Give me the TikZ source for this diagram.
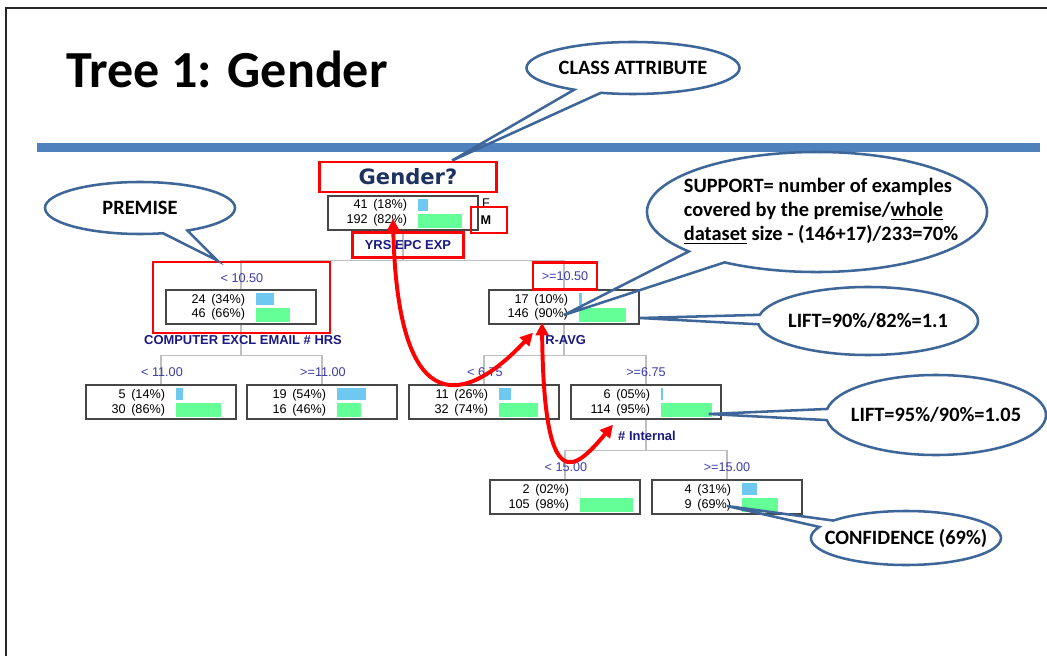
\documentclass[tikz,border=0pt]{standalone}
\usepackage{fontspec}
\usepackage{xcolor}
\usepackage{tikz}
\usetikzlibrary{shapes.callouts,arrows.meta}
\setmainfont{Liberation Sans}
\newfontfamily\slidefont{Carlito}
\newfontfamily\headfont{DejaVu Sans}
\definecolor{ruleblue}{RGB}{79,129,189}
\definecolor{calloutblue}{RGB}{62,102,152}
\definecolor{attrnavy}{RGB}{25,25,130}
\definecolor{splitblue}{RGB}{60,60,170}
\definecolor{gendernavy}{RGB}{30,50,95}
\definecolor{barblue}{RGB}{110,200,240}
\definecolor{bargreen}{RGB}{100,255,150}
\definecolor{boxgray}{RGB}{70,70,70}

% one tree node: box, two count lines and the two class bars
\newcommand{\leafbox}[9]{%
  \node[treebox] (#1) at (#2,#3) {};
  \node[tally, anchor=base east] (#1-n1) at ({#2-35},{#3-4}) {#4};
  \node[tally, anchor=base west] (#1-p1) at ({#2-30},{#3-4}) {(#5\%)};
  \node[tally, anchor=base east] (#1-n2) at ({#2-35},{#3+11}) {#6};
  \node[tally, anchor=base west] (#1-p2) at ({#2-30},{#3+11}) {(#7\%)};
  \fill[barblue] ({#2+15},{#3-14}) rectangle ++(#8,12);
  \fill[bargreen] ({#2+15},{#3+1}) rectangle ++(#9,14);
}

\begin{document}
\begin{tikzpicture}[
    x=0.025cm, y=-0.025cm,
    treebox/.style={draw=boxgray, line width=1pt, minimum width=3.75cm, minimum height=0.85cm, inner sep=0pt},
    tally/.style={font=\fontsize{9}{10}\selectfont, inner sep=0pt},
    splitlbl/.style={text=splitblue, font=\fontsize{9}{10}\selectfont, inner sep=0pt},
    attrlbl/.style={text=attrnavy, font=\bfseries\fontsize{9.2}{10}\selectfont, inner sep=0pt},
    branch/.style={draw=black!25, line width=0.8pt},
    redbox/.style={draw=red, line width=2pt},
    redarrow/.style={draw=red, line width=2.8pt, {Triangle[length=9pt,width=9pt]}-{Triangle[length=9pt,width=9pt]}},
    remark/.style={ellipse callout, draw=calloutblue, line width=1.8pt, inner sep=0pt, callout pointer arc=16,
        font=\slidefont\bfseries\fontsize{14.5}{17}\selectfont}
]

\useasboundingbox (0,0) rectangle (1047,656);
\fill[white] (0,0) rectangle (1047,656);
\draw[black!85, line width=1.5pt] (6,656) -- (6,8) -- (1047,8);

\node[anchor=base west, inner sep=0pt, font=\slidefont\bfseries\fontsize{37}{37}\selectfont] (title) at (66,88) {Tree 1: Gender};
\draw[ruleblue, line width=6.4pt] (37,148) -- (1040,148);

% tree
\leafbox{root}{403}{213}{41}{18}{192}{82}{10}{44}
\leafbox{l1}{241}{307}{24}{34}{46}{66}{18}{34}
\leafbox{r1}{564}{307}{17}{10}{146}{90}{3}{47}
\leafbox{ll}{161}{402}{5}{14}{30}{86}{7}{45}
\leafbox{lr}{322}{402}{19}{54}{16}{46}{29}{24}
\leafbox{rl}{484}{402}{11}{26}{32}{74}{12}{39}
\leafbox{rr}{646}{402}{6}{05}{114}{95}{1.5}{51}
\leafbox{c3a}{565}{497}{2}{02}{105}{98}{0}{53}
\leafbox{c3b}{727}{497}{4}{31}{9}{69}{15}{36}

\draw[branch] (root.south) -- ++(0,30) -| (l1.north);
\draw[branch] (root.south) -- ++(0,30) -| (r1.north);
\draw[branch] (l1.south) -- ++(0,31) -| (ll.north);
\draw[branch] (l1.south) -- ++(0,31) -| (lr.north);
\draw[branch] (r1.south) -- ++(0,31) -| (rl.north);
\draw[branch] (r1.south) -- ++(0,31) -| (rr.north);
\draw[branch] (rr.south) -- ++(0,31) -| (c3a.north);
\draw[branch] (rr.south) -- ++(0,31) -| (c3b.north);

\node[redbox, text=gendernavy, font=\headfont\bfseries\fontsize{15}{15}\selectfont, minimum width=4.425cm, minimum height=0.75cm] (gender) at (408,177) {Gender?};
\node[tally] (flbl) at (486,203) {F};
\node[tally, font=\bfseries\fontsize{9}{10}\selectfont] (mlbl) at (486,220) {M};
\node[redbox, minimum width=0.9cm, minimum height=0.65cm] (mbox) at (489,220) {};
\node[attrlbl, redbox, minimum width=2.775cm, minimum height=0.625cm] (yrs) at (408,245) {YRS EPC EXP};

\node[splitlbl] (l1lbl) at (242,278) {< 10.50};
\node[splitlbl, redbox, minimum width=1.6cm, minimum height=0.675cm] (r1lbl) at (565,276) {>=10.50};
\node[redbox, minimum width=4.425cm, minimum height=1.775cm] (premise) at (241.5,297.5) {};

\node[attrlbl] (comp) at (243,340) {COMPUTER EXCL EMAIL \# HRS};
\node[attrlbl, anchor=west] (ravg) at (545,340) {R-AVG};
\node[splitlbl] (lllbl) at (162,372) {< 11.00};
\node[splitlbl] (lrlbl) at (323,372) {>=11.00};
\node[splitlbl] (rllbl) at (485,372) {< 6.75};
\node[splitlbl] (rrlbl) at (646,372) {>=6.75};
\node[attrlbl] (intl) at (647,436) {\# Internal};
\node[splitlbl] (c3albl) at (566,467) {< 15.00};
\node[splitlbl] (c3blbl) at (727,467) {>=15.00};

% red arrows
\draw[redarrow] ([xshift=-0.25cm,yshift=0.3cm]root.south) .. controls (398,430) and (470,400) .. ([xshift=-0.775cm,yshift=-0.2cm]r1.south);
\draw[redarrow] ([xshift=-0.55cm,yshift=0.05cm]r1.south) .. controls (544,500) and (575,470) .. ([xshift=-0.825cm,yshift=-0.125cm]rr.south);

% callouts
\coordinate (clstip) at ([xshift=1.1cm]gender.north);
\coordinate (premtip) at ([xshift=-0.6cm]premise.north);
\coordinate (suptip) at ([yshift=-0.2cm]r1.center);
\coordinate (lift1tip) at ([yshift=-0.275cm]r1.east);
\coordinate (lift2tip) at ([xshift=-0.325cm,yshift=-0.3cm]rr.east);
\coordinate (conftip) at ([yshift=-0.225cm]c3b.center);

\node[remark, minimum width=5.325cm, minimum height=1.3cm, callout absolute pointer={(clstip)}] (cls) at (633,68) {\makebox[0pt]{CLASS ATTRIBUTE}};
\node[remark, minimum width=4.75cm, minimum height=1.3cm, callout absolute pointer={(premtip)}] (prem) at (140,208) {\makebox[0pt]{PREMISE}};
\node[remark, minimum width=8.5cm, minimum height=3cm, callout absolute pointer={(suptip)}] (sup) at (817,212)
    {\makebox[0pt]{\hspace*{0.2cm}\begin{tabular}{@{}l@{}}SUPPORT= number of examples\\covered by the premise/\underline{whole}\\\underline{dataset} size - (146+17)/233=70\%\end{tabular}}};
\node[remark, minimum width=5.5cm, minimum height=1.7cm, callout absolute pointer={(lift1tip)}] (lift1) at (868,321) {\makebox[0pt]{LIFT=90\%/82\%=1.1}};
\node[remark, minimum width=5.5cm, minimum height=2cm, callout absolute pointer={(lift2tip)}] (lift2) at (936,415) {\makebox[0pt]{LIFT=95\%/90\%=1.05}};
\node[remark, minimum width=4.75cm, minimum height=1.35cm, callout absolute pointer={(conftip)}] (conf) at (906,538) {\makebox[0pt]{CONFIDENCE (69\%)}};

\end{tikzpicture}
\end{document}
